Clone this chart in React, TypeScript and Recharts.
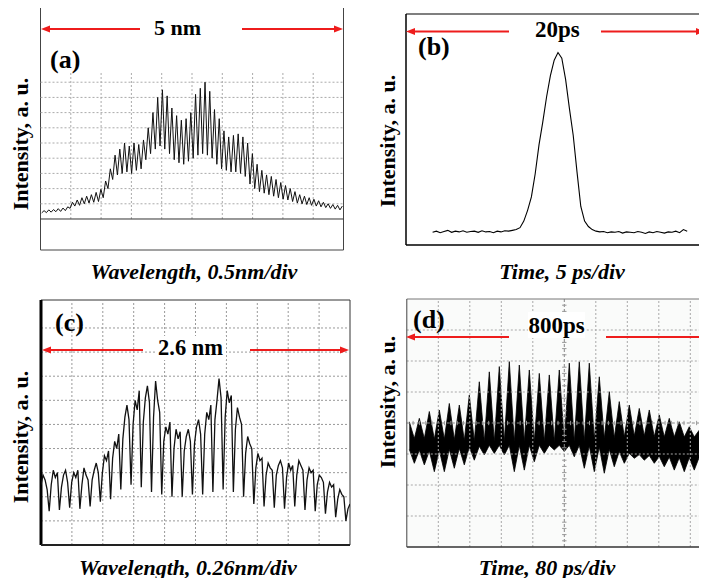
import React from "react";
import { LineChart, ComposedChart, Line, Area, XAxis, YAxis, ReferenceLine, ReferenceArea } from "recharts";

const FONT = '"Liberation Serif", "Times New Roman", serif';
const RED = "#ee1c1c";

// (a) spectrum, fringe maxima / minima in grid divisions above the base line
const peaksA = [
  0.55, 0.6, 0.62, 0.68, 0.72, 0.8, 1.1, 1.25, 1.4, 1.5, 1.6, 1.75, 1.95, 2.5, 3.3, 4.2,
  4.6, 5.0, 4.8, 5.0, 4.9, 5.2, 6.0, 7.0, 8.0, 8.5, 8.1, 7.3, 6.8, 6.5, 6.6, 7.0,
  8.2, 8.6, 9.0, 8.4, 7.2, 6.6, 5.8, 5.4, 5.5, 5.6, 5.4, 5.0, 4.3, 3.6, 3.2, 2.9,
  2.8, 2.6, 2.4, 2.2, 2.0, 1.8, 1.6, 1.5, 1.4, 1.3, 1.2, 1.1, 1.0, 0.95, 0.9, 0.85,
];
const troughsA = [
  0.4, 0.42, 0.45, 0.48, 0.5, 0.55, 0.7, 0.85, 0.9, 1.0, 1.05, 1.1, 1.15, 1.4, 2.0, 2.6,
  2.9, 3.0, 3.1, 3.0, 3.2, 3.3, 3.9, 4.3, 4.6, 4.8, 4.6, 4.3, 3.9, 3.7, 3.6, 3.8,
  4.0, 4.2, 4.3, 4.2, 4.0, 3.6, 3.3, 3.2, 3.1, 3.1, 3.0, 2.8, 2.3, 2.0, 1.8, 1.7,
  1.6, 1.5, 1.4, 1.3, 1.25, 1.15, 1.05, 1.0, 0.95, 0.9, 0.85, 0.8, 0.75, 0.7, 0.65, 0.6,
];
const gridA = [1, 2, 3, 4, 5, 6, 7, 8, 9];

// (b) autocorrelation trace, 0.25 ps steps starting at -8.25 ps
const startB = -8.25;
const stepB = 0.25;
const pulseB = [
  0.33, 0.36, 0.32, 0.35, 0.38, 0.33, 0.36, 0.34, 0.37, 0.33, 0.35, 0.36, 0.33, 0.37, 0.34, 0.35,
  0.32, 0.36, 0.34, 0.37, 0.36, 0.38, 0.4, 0.45, 0.62, 0.9, 1.25, 1.85, 2.6, 3.2, 3.85, 4.4,
  4.8, 5.0, 4.85, 4.3, 3.55, 2.85, 1.9, 1.0, 0.62, 0.48, 0.4, 0.36, 0.34, 0.35, 0.32, 0.34,
  0.33, 0.35, 0.31, 0.34, 0.33, 0.32, 0.35, 0.33, 0.3, 0.34, 0.32, 0.35, 0.33, 0.31, 0.34, 0.33,
  0.36, 0.32, 0.4, 0.36,
];
const ticksBX = [-5, 0, 5];
const ticksBY = [1, 2, 3, 4, 5];

// (c) filtered spectrum, evenly sampled across 10 divisions
const spectrumC = [
  2.5, 2.9, 2.7, 2.3,
  1.4, 2.5, 3.1, 2.8, 3.0,
  1.45, 2.4, 2.9, 3.1, 2.6,
  1.55, 2.6, 3.0, 2.8, 3.1,
  1.5, 2.5, 3.2, 2.9, 2.7,
  1.6, 2.7, 3.1, 3.4, 3.0,
  1.8, 3.0, 3.7, 3.5, 3.9,
  1.9, 3.6, 4.3, 4.0, 4.6,
  2.3, 4.4, 5.3, 5.8, 5.2,
  2.5, 5.0, 6.0, 5.6, 6.4,
  2.4, 5.1, 6.1, 6.6, 5.9,
  2.2, 5.3, 6.8, 6.0, 5.5,
  2.1, 4.3, 4.9, 4.6, 5.1,
  2.0, 4.0, 4.8, 4.4, 4.7,
  2.0, 3.9, 4.5, 4.8, 4.3,
  2.1, 4.2, 4.9, 5.2, 4.6,
  2.1, 4.6, 5.5, 5.2, 5.8,
  2.2, 5.2, 6.0, 6.9, 6.1,
  2.3, 5.3, 6.4, 5.9, 6.2,
  2.2, 4.8, 5.7, 5.3, 5.0,
  2.0, 3.8, 4.5, 4.2, 4.0,
  1.7, 3.2, 3.8, 3.5, 3.6,
  1.6, 2.9, 3.4, 3.2, 3.1,
  1.55, 2.9, 3.3, 3.5, 3.2,
  1.5, 2.8, 3.4, 3.1, 3.3,
  1.6, 2.9, 3.5, 3.3, 3.1,
  1.45, 2.7, 3.2, 3.0, 3.1,
  1.4, 2.5, 2.9, 2.8, 2.6,
  1.3, 2.2, 2.6, 2.4, 2.5,
  1.15, 1.9, 2.3, 2.1, 2.0,
  1.0, 1.5, 1.7,
];
const gridC = [1, 2, 3, 4, 5, 6, 7, 8, 9];

// (d) oscilloscope trace: spike tops, minima between them, and the noise band edges
const spikeTopsD = [
  4.04, 4.15, 4.37, 4.42, 4.63, 4.58, 4.9, 5.33, 5.65, 5.82, 5.98, 5.87, 5.71, 5.6, 5.55, 5.71,
  5.93, 5.98, 5.93, 5.49, 5.01, 4.69, 4.58, 4.47, 4.42, 4.26, 4.15, 4.04, 3.88, 3.77, 3.7,
];
const spikeLowsD = [
  2.7, 2.65, 2.43, 2.43, 2.54, 2.65, 2.8, 2.97, 3.02, 2.97, 2.43, 2.48, 2.75, 3.02, 3.13,
  3.08, 2.91, 2.54, 2.43, 2.38, 2.59, 2.7, 2.86, 2.8, 2.7, 2.59, 2.48, 2.43, 2.48, 2.54,
];
const bandLowD = [
  3.15, 3.12, 3.1, 3.12, 3.15, 3.18, 3.22, 3.25, 3.28, 3.28, 3.28, 3.28, 3.28, 3.28, 3.28, 3.28,
  3.28, 3.28, 3.26, 3.22, 3.15, 3.08, 3.02, 2.98, 2.95, 2.92, 2.9, 2.88, 2.88, 2.9, 2.9,
];
const bandHighD = [
  3.5, 3.5, 3.48, 3.48, 3.46, 3.44, 3.42, 3.4, 3.4, 3.4, 3.4, 3.4, 3.4, 3.4, 3.4,
  3.4, 3.4, 3.42, 3.46, 3.5, 3.52, 3.55, 3.58, 3.58, 3.56, 3.55, 3.55, 3.55, 3.55, 3.52,
];
const gridDX = [1, 2, 3, 4, 6, 7, 8, 9];
const gridDY = [1, 2, 3, 5, 6, 7];

const noAnim = { isAnimationActive: false, dot: false, activeDot: false } as const;

function PanelA() {
  const data: { x: number; v: number }[] = [];
  peaksA.forEach((p, i) => {
    data.push({ x: ((2 * i + 0.5) * 10) / 128, v: troughsA[i] });
    data.push({ x: ((2 * i + 1.5) * 10) / 128, v: p });
  });
  return (
    <LineChart width={350} height={260} data={data} margin={{ top: 5, right: 6.5, bottom: 10, left: 40.5 }}>
      <XAxis dataKey="x" type="number" domain={[0, 10]} allowDataOverflow hide />
      <YAxis type="number" domain={[-2.04, 14.08]} allowDataOverflow hide />
      <ReferenceArea x1={0} x2={10} y1={-2.04} y2={14.08} fill="none" stroke="#444" ifOverflow="visible" />
      {gridA.map((g) => (
        <ReferenceLine key={"v" + g} segment={[{ x: g, y: 0 }, { x: g, y: 9.67 }]} stroke="#aaa" strokeDasharray="2 2" />
      ))}
      {gridA.map((g) => (
        <ReferenceLine key={"h" + g} y={g} stroke="#aaa" strokeDasharray="2 2" />
      ))}
      <ReferenceLine y={0} stroke="#333" />
      <Line dataKey="v" stroke="#111" strokeWidth={1} {...noAnim} />
    </LineChart>
  );
}

function PanelB() {
  const data = pulseB.map((v, i) => ({ t: startB + i * stepB, v }));
  return (
    <LineChart width={360} height={260} data={data} margin={{ top: 14, right: 10, bottom: 15, left: 46 }}>
      <XAxis
        dataKey="t"
        type="number"
        domain={[-10, 10]}
        allowDataOverflow
        ticks={ticksBX}
        tick={false}
        mirror
        tickSize={4}
        axisLine={{ stroke: "#000", strokeWidth: 1.5 }}
        tickLine={{ stroke: "#000" }}
      />
      <YAxis
        type="number"
        domain={[0, 6]}
        allowDataOverflow
        ticks={ticksBY}
        tick={false}
        mirror
        tickSize={4}
        axisLine={{ stroke: "#000", strokeWidth: 1.5 }}
        tickLine={{ stroke: "#000" }}
      />
      <ReferenceLine y={6} stroke="#000" strokeWidth={1.2} />
      <Line dataKey="v" stroke="#000" strokeWidth={1.1} {...noAnim} />
    </LineChart>
  );
}

function PanelC() {
  const data = spectrumC.map((v, i) => ({ x: (i * 10) / (spectrumC.length - 1), v }));
  return (
    <LineChart width={360} height={265} data={data} margin={{ top: 10, right: 10, bottom: 10, left: 41 }}>
      <XAxis dataKey="x" type="number" domain={[0, 10]} allowDataOverflow hide />
      <YAxis type="number" domain={[0, 10.16]} allowDataOverflow hide />
      {gridC.map((g) => (
        <ReferenceLine key={"v" + g} x={g} stroke="#999" strokeDasharray="2 2" />
      ))}
      {gridC.map((g) => (
        <ReferenceLine key={"h" + g} y={g} stroke="#999" strokeDasharray="2 2" />
      ))}
      <ReferenceArea x1={0} x2={10} y1={0} y2={10.16} fill="none" stroke="#333" ifOverflow="visible" />
      <ReferenceLine x={0} stroke="#000" strokeWidth={3} />
      <ReferenceLine y={0} stroke="#222" strokeWidth={2} />
      <Line dataKey="v" stroke="#111" strokeWidth={1.3} {...noAnim} />
    </LineChart>
  );
}

function PanelD() {
  const data: { x: number; band: [number, number] }[] = [];
  spikeTopsD.forEach((p, i) => {
    data.push({ x: 0.08 + i * 2 * 0.1587, band: [bandLowD[i], p] });
    if (i < spikeLowsD.length) data.push({ x: 0.08 + (i * 2 + 1) * 0.1587, band: [spikeLowsD[i], bandHighD[i]] });
  });
  const minor: number[] = [];
  for (let k = 1; k < 50; k++) if (k % 5 !== 0) minor.push(k / 5);
  return (
    <ComposedChart width={370} height={265} data={data} margin={{ top: 9, right: 8.2, bottom: 8, left: 46.8 }}>
      <XAxis dataKey="x" type="number" domain={[0, 10]} allowDataOverflow hide />
      <YAxis type="number" domain={[0, 8]} allowDataOverflow hide />
      <ReferenceArea x1={0} x2={10} y1={0} y2={8} fill="#f6f7f6" stroke="none" ifOverflow="visible" />
      {gridDX.map((g) => (
        <ReferenceLine key={"v" + g} x={g} stroke="#a8a8a8" strokeDasharray="2 2" />
      ))}
      {gridDY.map((g) => (
        <ReferenceLine key={"h" + g} y={g} stroke="#a8a8a8" strokeDasharray="2 2" />
      ))}
      <ReferenceLine x={5} stroke="#888" strokeDasharray="3 2" />
      <ReferenceLine y={4} stroke="#888" strokeDasharray="3 2" />
      {minor.filter((m) => m < 8).map((m) => (
        <ReferenceLine key={"my" + m} segment={[{ x: 4.93, y: m }, { x: 5.07, y: m }]} stroke="#999" />
      ))}
      {minor.map((m) => (
        <ReferenceLine key={"mx" + m} segment={[{ x: m, y: 3.93 }, { x: m, y: 4.07 }]} stroke="#999" />
      ))}
      <ReferenceLine y={8} stroke="#777" />
      <ReferenceLine y={0} stroke="#333" strokeWidth={1.5} />
      <ReferenceLine x={0} stroke="#444" strokeWidth={1} />
      <Area dataKey="band" type="linear" stroke="#000" strokeWidth={0.8} fill="#000" fillOpacity={1} {...noAnim} />
    </ComposedChart>
  );
}

function Arrow({ from, to, y }: { from: number; to: number; y: number }) {
  const d = to > from ? 1 : -1;
  return (
    <g>
      <line x1={from} y1={y} x2={to - d * 7} y2={y} stroke={RED} strokeWidth={2.2} />
      <polygon points={`${to},${y} ${to - d * 9},${y - 3.5} ${to - d * 9},${y + 3.5}`} fill={RED} />
    </g>
  );
}

function YLabel({ x, y }: { x: number; y: number }) {
  return (
    <text transform={`translate(${x},${y}) rotate(-90)`} textAnchor="middle" fontSize={22} fontWeight="bold">
      Intensity, a. u.
    </text>
  );
}

function XLabel({ x, y, text }: { x: number; y: number; text: string }) {
  return (
    <text x={x} y={y} textAnchor="middle" fontSize={22} fontWeight="bold" fontStyle="italic">
      {text}
    </text>
  );
}

export default function App() {
  const abs = (left: number, top: number): React.CSSProperties => ({ position: "absolute", left, top });
  return (
    <div style={{ position: "relative", width: 707, height: 586, margin: -8, overflow: "hidden", background: "#fff", fontFamily: FONT }}>
      <div style={abs(0, 0)}>
        <PanelA />
      </div>
      <div style={abs(360, 0)}>
        <PanelB />
      </div>
      <div style={abs(0, 290)}>
        <PanelC />
      </div>
      <div style={abs(360, 290)}>
        <PanelD />
      </div>
      <svg width={707} height={586} style={{ position: "absolute", left: 0, top: 0, pointerEvents: "none", fontFamily: FONT }}>
        {/* (a) */}
        <Arrow from={140} to={41} y={29} />
        <Arrow from={242} to={343} y={29} />
        <text x={154} y={35} fontSize={22} fontWeight="bold">5 nm</text>
        <text x={50} y={68} fontSize={26} fontWeight="bold">(a)</text>
        <YLabel x={28} y={144} />
        <XLabel x={194} y={279} text="Wavelength, 0.5nm/div" />
        {/* (b) */}
        <Arrow from={509} to={406} y={31.5} />
        <Arrow from={601} to={705} y={31.5} />
        <text x={535} y={37} fontSize={23} fontWeight="bold">20ps</text>
        <text x={418} y={55} fontSize={26} fontWeight="bold">(b)</text>
        <YLabel x={395} y={141} />
        <XLabel x={562} y={279} text="Time, 5 ps/div" />
        {/* (c) */}
        <rect x={155} y={336} width={71} height={24} fill="#fff" />
        <Arrow from={143} to={42} y={350} />
        <Arrow from={250} to={349} y={350} />
        <text x={158} y={355} fontSize={22.5} fontWeight="bold">2.6 nm</text>
        <text x={55} y={331} fontSize={26} fontWeight="bold">(c)</text>
        <YLabel x={28} y={437} />
        <XLabel x={188} y={575} text="Wavelength, 0.26nm/div" />
        {/* (d) */}
        <rect x={528} y={312} width={57} height={26} fill="#fff" />
        <Arrow from={509} to={406} y={337} />
        <Arrow from={606} to={709} y={337} />
        <text x={528.5} y={333} fontSize={23} fontWeight="bold">800ps</text>
        <text x={413} y={328} fontSize={26} fontWeight="bold">(d)</text>
        <YLabel x={395} y={402} />
        <XLabel x={547} y={575} text="Time, 80 ps/div" />
      </svg>
    </div>
  );
}
